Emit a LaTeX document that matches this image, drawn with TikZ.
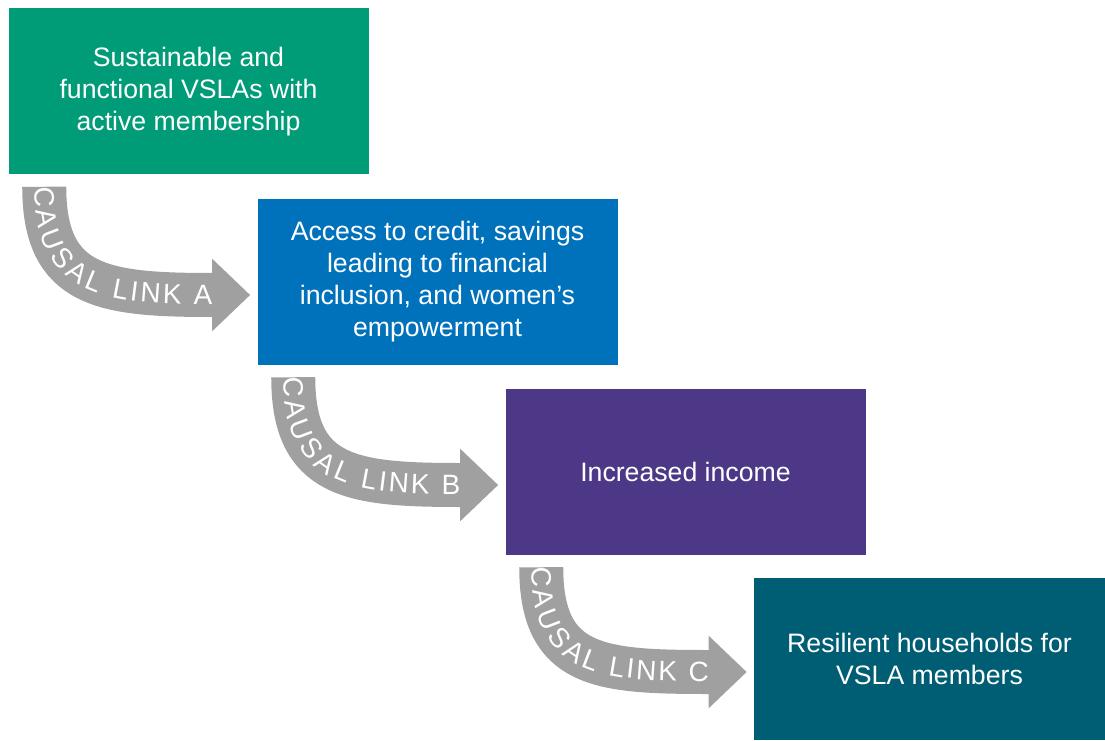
\documentclass[tikz,border=0pt]{standalone}
\usepackage{fontspec}
\setmainfont{Liberation Sans}
\usetikzlibrary{arrows.meta,calc,decorations.text}
\definecolor{vslagreen}{RGB}{0,155,119}
\definecolor{accessblue}{RGB}{0,114,188}
\definecolor{incomepurple}{RGB}{76,56,134}
\definecolor{resilientteal}{RGB}{0,94,116}
\definecolor{linkgray}{RGB}{160,160,160}
\newcommand{\boxfont}{\fontsize{20}{24}\selectfont}
\newcommand{\linkfont}{\fontsize{21}{24}\selectfont}
\tikzset{
  outcome/.style={minimum width=270pt, minimum height=124.5pt, inner sep=0pt, align=center, text=white, font=\boxfont},
  link/.style={draw=linkgray, line width=33pt, -{Triangle[length=28.5pt,width=52.5pt]}}
}
\begin{document}
\begin{tikzpicture}[x=0.75pt,y=0.75pt]
\useasboundingbox (0,0) rectangle (1105,740);
\node[outcome, fill=vslagreen] (vsla) at (188.5,648.5) {Sustainable and\\functional VSLAs with\\active membership};
\node[outcome, fill=accessblue] (access) at (437.5,458) {Access to credit, savings\\leading to financial\\inclusion, and women’s\\empowerment};
\node[outcome, fill=incomepurple] (income) at (685.5,268) {Increased income};
\node[outcome, fill=resilientteal, minimum width=263.25pt, minimum height=121.5pt] (resilient) at (929.5,81) {Resilient households for\\VSLA members};
\foreach \src/\dst/\lk in {vsla/access/A, access/income/B, income/resilient/C} {
  \coordinate (top\lk) at ($(\src.south west)+(36,-12)$);
  \coordinate (tip\lk) at ($(\dst.west)+(-7,-13)$);
  \coordinate (base\lk) at ($(tip\lk)+(-38,0)$);
  \draw[link] (top\lk) .. controls +(0,-100) and +(-110,0) .. (base\lk) -- (tip\lk); % curved arrow
  \path[decorate, decoration={text along path, text/.expanded={|\noexpand\linkfont|CAUSAL LINK \lk}, text align={fit to path}, text color=white, raise=-7pt}]
    (top\lk) .. controls +(0,-100) and +(-110,0) .. (base\lk); % label on the arrow
}
\end{tikzpicture}
\end{document}
